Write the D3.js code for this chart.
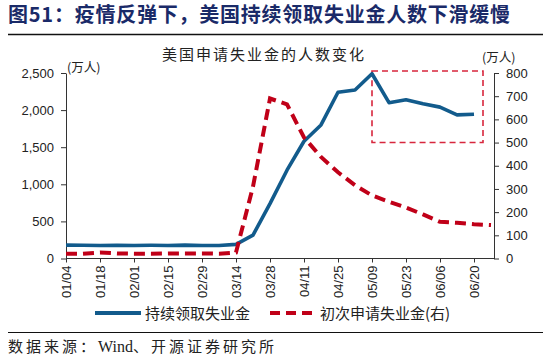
<!DOCTYPE html>
<html>
<head>
<meta charset="utf-8">
<script src="https://cdn.jsdelivr.net/npm/d3@7"></script>
<style>
  html, body { margin: 0; padding: 0; background: #fff; }
  svg { display: block; }
  .tick text { font-family: "Liberation Sans", Arial, sans-serif; font-size: 13px; fill: #222; }
  .tick line, .domain { stroke: #333; }
  .cjk { font-family: "Noto Sans CJK SC", sans-serif; }
</style>
</head>
<body>
<div id="chart"></div>
<script>
// 周度日期（初请数据比续请多一周）
const dates = ['01/04', '01/11', '01/18', '01/25', '02/01', '02/08', '02/15', '02/22', '02/29', '03/07',
  '03/14', '03/21', '03/28', '04/04', '04/11', '04/18', '04/25', '05/02', '05/09', '05/16',
  '05/23', '05/30', '06/06', '06/13', '06/20', '06/27'];
const tickLabels = ['01/04', '01/18', '02/01', '02/15', '02/29', '03/14', '03/28', '04/11', '04/25',
  '05/09', '05/23', '06/06', '06/20'];
// 持续领取失业金（万人，左轴）
const continuing = [180, 178, 176, 179, 175, 178, 176, 180, 176, 176,
  190, 315, 740, 1190, 1580, 1800, 2240, 2270, 2490, 2100,
  2140, 2085, 2040, 1935, 1945];
// 初次申请失业金（万人，右轴）
const initial = [21, 21, 26, 22, 21, 21, 22, 22, 22, 21,
  26, 310, 690, 665, 522, 438, 372, 316, 272, 245,
  220, 190, 158, 154, 148, 144];
const leftTicks = [0, 500, 1000, 1500, 2000, 2500];
const rightTicks = [0, 100, 200, 300, 400, 500, 600, 700, 800];

const width = 550;
const height = 362;
const plotLeft = 66;
const plotRight = 494;
const plotTop = 73;
const plotBottom = 258.5;

const svg = d3.select('#chart').append('svg')
  .attr('width', width)
  .attr('height', height);

// 标题
svg.append('text')
  .attr('class', 'cjk')
  .attr('x', 8)
  .attr('y', 22)
  .attr('font-size', 20)
  .attr('font-weight', 'bold')
  .attr('fill', '#1a2a68')
  .attr('textLength', 502)
  .text('图51：疫情反弹下，美国持续领取失业金人数下滑缓慢');

svg.append('line')
  .attr('x1', 8).attr('x2', 543)
  .attr('y1', 34.5).attr('y2', 34.5)
  .attr('stroke', '#111').attr('stroke-width', 1.5);

svg.append('text')
  .attr('class', 'cjk')
  .attr('x', 264)
  .attr('y', 60)
  .attr('text-anchor', 'middle')
  .attr('font-size', 15)
  .attr('letter-spacing', 2)
  .attr('fill', '#222')
  .text('美国申请失业金的人数变化');

// ***************比例尺***************
const xScale = d3.scalePoint()
  .domain(dates)
  .range([plotLeft, plotLeft + 17 * (dates.length - 1)]);
const yLeft = d3.scaleLinear().domain([0, 2500]).range([plotBottom, plotTop]);
const yRight = d3.scaleLinear().domain([0, 800]).range([plotBottom, plotTop]);

// ***************坐标轴***************
const xAxis = svg.append('g')
  .attr('transform', `translate(0,${plotBottom})`)
  .call(d3.axisBottom(xScale).tickValues(tickLabels).tickSize(4).tickSizeOuter(0));
xAxis.select('.domain').remove();
xAxis.selectAll('text')
  .attr('transform', 'rotate(-90)')
  .attr('text-anchor', 'end')
  .attr('x', -7)
  .attr('y', 0)
  .attr('dy', '0.35em');
svg.append('line')
  .attr('x1', plotLeft).attr('x2', plotRight)
  .attr('y1', plotBottom).attr('y2', plotBottom)
  .attr('stroke', '#333');

svg.append('g')
  .attr('transform', `translate(${plotLeft},0)`)
  .call(d3.axisLeft(yLeft).tickValues(leftTicks).tickSize(5).tickSizeOuter(0)
    .tickPadding(7).tickFormat(d3.format(',')));

svg.append('g')
  .attr('transform', `translate(${plotRight},0)`)
  .call(d3.axisRight(yRight).tickValues(rightTicks).tickSize(5).tickSizeOuter(0)
    .tickPadding(7));

svg.append('text')
  .attr('class', 'cjk')
  .attr('x', 67).attr('y', 72)
  .attr('font-size', 12.5).attr('fill', '#222')
  .text('(万人)');
svg.append('text')
  .attr('class', 'cjk')
  .attr('x', 482).attr('y', 62)
  .attr('font-size', 12.5).attr('fill', '#222')
  .text('(万人)');

// 红色虚线框
svg.append('rect')
  .attr('x', xScale('05/09'))
  .attr('y', yRight(800) - 2)
  .attr('width', 483 - xScale('05/09'))
  .attr('height', yRight(500) - yRight(800) + 2)
  .attr('fill', 'none')
  .attr('stroke', '#d7263d')
  .attr('stroke-width', 1.6)
  .attr('stroke-dasharray', '6,4');

// ***************折线***************
const blueLine = d3.line()
  .x((d, i) => xScale(dates[i]))
  .y((d) => yLeft(d));
const redLine = d3.line()
  .x((d, i) => xScale(dates[i]))
  .y((d) => yRight(d));

svg.append('path')
  .datum(continuing)
  .attr('d', blueLine)
  .attr('fill', 'none')
  .attr('stroke', '#125b8c')
  .attr('stroke-width', 3.6)
  .attr('stroke-linejoin', 'round');

svg.append('path')
  .datum(initial)
  .attr('d', redLine)
  .attr('fill', 'none')
  .attr('stroke', '#c00018')
  .attr('stroke-width', 4)
  .attr('stroke-dasharray', '11,6');

// ***************图例***************
const legend = svg.append('g');
legend.append('line')
  .attr('x1', 95).attr('x2', 141).attr('y1', 313).attr('y2', 313)
  .attr('stroke', '#125b8c').attr('stroke-width', 4);
legend.append('text')
  .attr('class', 'cjk')
  .attr('x', 145).attr('y', 318.5)
  .attr('font-size', 15).attr('fill', '#222')
  .text('持续领取失业金');
legend.append('line')
  .attr('x1', 270).attr('x2', 312).attr('y1', 313).attr('y2', 313)
  .attr('stroke', '#c00018').attr('stroke-width', 4)
  .attr('stroke-dasharray', '10,6');
legend.append('text')
  .attr('class', 'cjk')
  .attr('x', 320).attr('y', 318.5)
  .attr('font-size', 15).attr('fill', '#222')
  .text('初次申请失业金(右)');

// 数据来源
svg.append('line')
  .attr('x1', 8).attr('x2', 543)
  .attr('y1', 332.5).attr('y2', 332.5)
  .attr('stroke', '#111').attr('stroke-width', 1.2);
const source = svg.append('text')
  .attr('class', 'cjk')
  .attr('x', 8).attr('y', 352)
  .attr('font-size', 15).attr('fill', '#222');
source.append('tspan').attr('letter-spacing', 3).text('数据来源：');
source.append('tspan')
  .attr('font-family', '"Liberation Serif", serif')
  .attr('font-size', 16)
  .text('Wind');
source.append('tspan').attr('letter-spacing', 3).text('、开源证券研究所');
</script>
</body>
</html>
